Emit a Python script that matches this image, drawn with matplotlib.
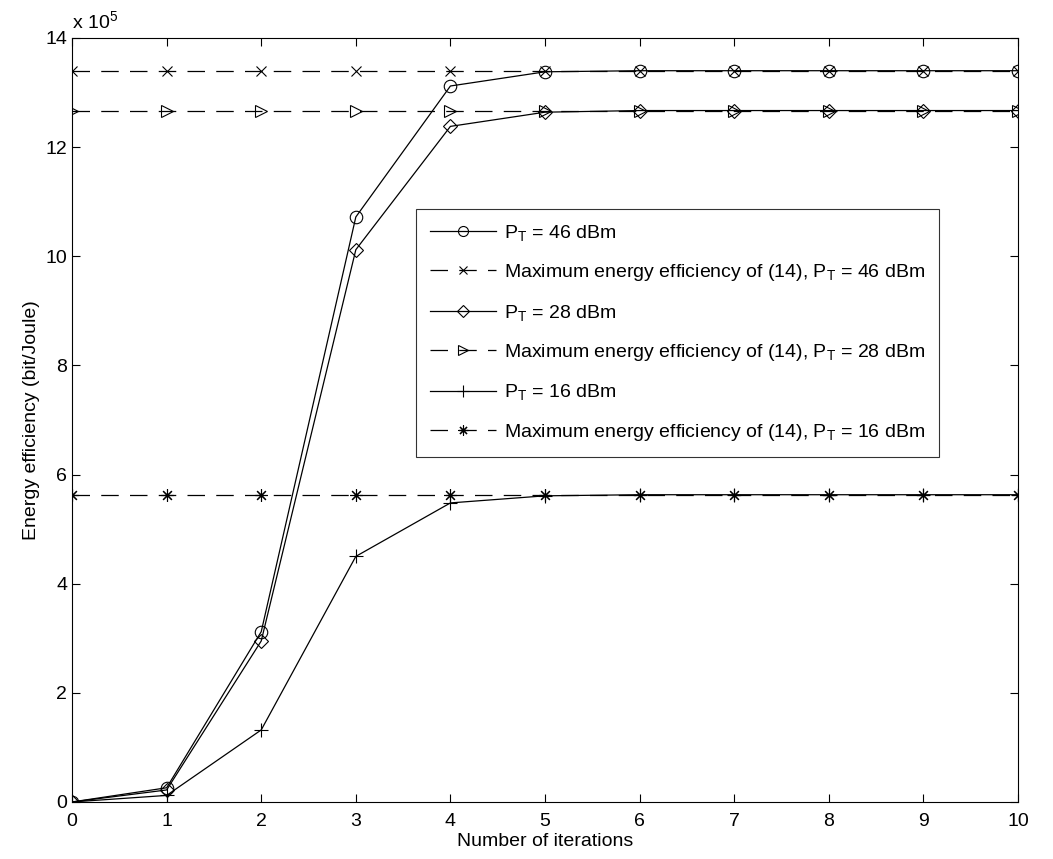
import numpy as np
import matplotlib
matplotlib.use("Agg")
import matplotlib.pyplot as plt

# values in units of 1e5 bit/Joule
iterations = np.arange(0, 11)
ee_46 = [0, 0.26, 3.12, 10.72, 13.12, 13.38, 13.40, 13.40, 13.40, 13.40, 13.40]
ee_28 = [0, 0.22, 2.95, 10.12, 12.38, 12.64, 12.67, 12.67, 12.67, 12.67, 12.67]
ee_16 = [0, 0.12, 1.32, 4.50, 5.48, 5.61, 5.63, 5.63, 5.63, 5.63, 5.63]
max_46 = 13.40
max_28 = 12.67
max_16 = 5.63

plt.rcParams["font.family"] = ["Liberation Sans", "DejaVu Sans"]
plt.rcParams["mathtext.fontset"] = "custom"
plt.rcParams["mathtext.rm"] = "Liberation Sans"
plt.rcParams["mathtext.it"] = "Liberation Sans"

fig = plt.figure(figsize=(10.53, 8.59), dpi=100)
ax = fig.add_axes([0.0684, 0.0664, 0.8984, 0.8894])

fs = 14
lw = 0.9
dash = (0, (14, 9))
ms = 9

ax.plot(iterations, ee_46, color="k", lw=lw, marker="o", ms=ms, mfc="none", mew=0.8,
        label=r"P$_{\rm T}$ = 46 dBm")
ax.plot(iterations, [max_46] * len(iterations), color="k", lw=lw, ls=dash, marker="x", ms=7, mew=0.8,
        label=r"Maximum energy efficiency of (14), P$_{\rm T}$ = 46 dBm")
ax.plot(iterations, ee_28, color="k", lw=lw, marker="D", ms=7.5, mfc="none", mew=0.8,
        label=r"P$_{\rm T}$ = 28 dBm")
ax.plot(iterations, [max_28] * len(iterations), color="k", lw=lw, ls=dash, marker=">", ms=ms, mfc="none", mew=0.8,
        label=r"Maximum energy efficiency of (14), P$_{\rm T}$ = 28 dBm")
ax.plot(iterations, ee_16, color="k", lw=lw, marker="+", ms=10, mew=0.8,
        label=r"P$_{\rm T}$ = 16 dBm")
ax.plot(iterations, [max_16] * len(iterations), color="k", lw=lw, ls=dash, marker=(8, 2, 0), ms=9, mew=0.8,
        label=r"Maximum energy efficiency of (14), P$_{\rm T}$ = 16 dBm")

ax.set_xlim(0, 10)
ax.set_ylim(0, 14)
ax.set_xticks(range(0, 11))
ax.set_yticks(range(0, 15, 2))
ax.tick_params(direction="in", top=True, right=True, labelsize=fs, length=6, width=0.8)
ax.tick_params(axis="x", pad=8)
for s in ax.spines.values():
    s.set_linewidth(0.8)
ax.text(0.0, 1.008, r"x 10$^{5}$", transform=ax.transAxes, fontsize=fs, ha="left", va="bottom")

ax.set_xlabel("Number of iterations", fontsize=fs, labelpad=2)
ax.set_ylabel("Energy efficiency (bit/Joule)", fontsize=fs, labelpad=4)

leg = ax.legend(loc="upper left", bbox_to_anchor=(0.364, 0.776), fontsize=fs, frameon=True,
                fancybox=False, edgecolor="k", handlelength=3.4, labelspacing=1.0,
                borderpad=0.7, handletextpad=0.4, markerscale=0.8, borderaxespad=0)
leg.get_frame().set_linewidth(0.8)

fig.savefig("out.png", dpi=100)
